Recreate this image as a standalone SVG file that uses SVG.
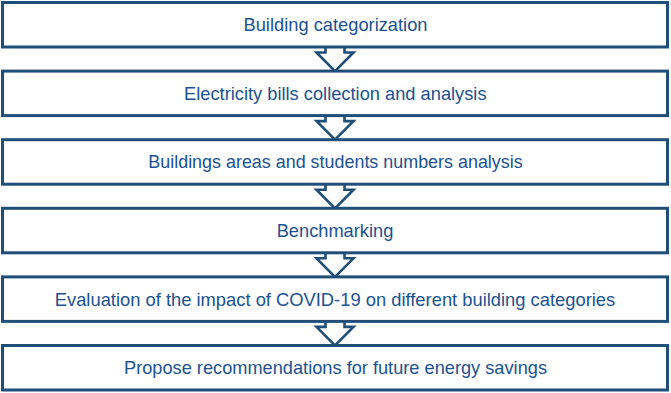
<svg xmlns="http://www.w3.org/2000/svg" width="671" height="393" viewBox="0 0 671 393">
<style>
.box{fill:#ffffff;stroke:#1F4E79;stroke-width:3}
.arr{fill:#ffffff;stroke:#1F4E79;stroke-width:2.6;stroke-linejoin:miter}
.lbl{font-family:"Liberation Sans",Arial,sans-serif;font-size:19px;fill:#1B5290;text-anchor:middle}
</style>
<rect width="671" height="393" fill="#ffffff"/>
<g id="connectors">
<path class="arr" d="M325.5 47 V52.5 H316.5 L335 71.1 L353.5 52.5 H344.5 V47"/>
<path class="arr" d="M325.5 115.6 V121.1 H316.5 L335 139.7 L353.5 121.1 H344.5 V115.6"/>
<path class="arr" d="M325.5 184.2 V189.7 H316.5 L335 208.3 L353.5 189.7 H344.5 V184.2"/>
<path class="arr" d="M325.5 252.8 V258.3 H316.5 L335 276.9 L353.5 258.3 H344.5 V252.8"/>
<path class="arr" d="M325.5 321.4 V326.9 H316.5 L335 345.5 L353.5 326.9 H344.5 V321.4"/>
</g>
<g id="n1"><rect class="box" x="2.5" y="2.5" width="665" height="44.5"/><text class="lbl" x="335.5" y="31.2" textLength="184" lengthAdjust="spacingAndGlyphs">Building categorization</text></g>
<g id="n2"><rect class="box" x="2.5" y="71.1" width="665" height="44.5"/><text class="lbl" x="335.3" y="99.8" textLength="302.5" lengthAdjust="spacingAndGlyphs">Electricity bills collection and analysis</text></g>
<g id="n3"><rect class="box" x="2.5" y="139.7" width="665" height="44.5"/><text class="lbl" x="335.5" y="168.4" textLength="374.4" lengthAdjust="spacingAndGlyphs">Buildings areas and students numbers analysis</text></g>
<g id="n4"><rect class="box" x="2.5" y="208.3" width="665" height="44.5"/><text class="lbl" x="335" y="237" textLength="116.6" lengthAdjust="spacingAndGlyphs">Benchmarking</text></g>
<g id="n5"><rect class="box" x="2.5" y="276.9" width="665" height="44.5"/><text class="lbl" x="335" y="305.6" textLength="560.5" lengthAdjust="spacingAndGlyphs">Evaluation of the impact of COVID-19 on different building categories</text></g>
<g id="n6"><rect class="box" x="2.5" y="345.5" width="665" height="44.5"/><text class="lbl" x="335.5" y="374.2" textLength="423" lengthAdjust="spacingAndGlyphs">Propose recommendations for future energy savings</text></g>
</svg>
